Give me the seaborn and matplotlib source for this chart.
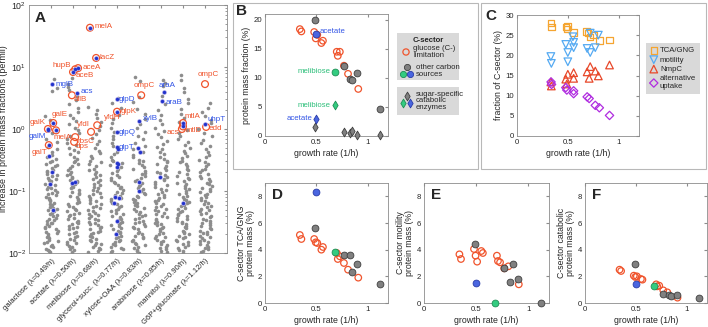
import numpy as np
import pandas as pd
import seaborn as sns
import matplotlib.pyplot as plt
from matplotlib.patches import Rectangle

# ---------------- data ----------------
conds = ['galactose (λ=0.49/h)', 'acetate (λ=0.50/h)', 'melibiose (λ=0.68/h)',
         'glycerol+succ. (λ=0.77/h)', 'xylose+OAA (λ=0.83/h)', 'arabinose (λ=0.85/h)',
         'mannitol (λ=0.90/h)', 'G6P+gluconate (λ=1.12/h)']

# panel A: bulk of proteins (gray cloud) per condition
gray_gal = "6.3 4.6 4.1 1.6 1.4 0.86 0.7 0.62 0.52 0.47 0.42 0.38 0.35 0.33 0.31 0.29 0.27 0.26 0.25 0.235 0.22 0.21 0.2 0.19 0.18 0.172 0.165 0.157 0.15 0.143 0.136 0.13 0.124 0.118 0.112 0.107 0.102 0.097 0.093 0.089 0.085 0.081 0.077 0.074 0.071 0.068 0.065 0.062 0.059 0.056 0.054 0.052 0.049 0.047 0.045 0.043 0.041 0.039 0.037 0.036 0.034 0.033 0.031 0.03 0.029 0.027 0.026 0.025 0.024 0.023 0.022 0.021 0.02 0.019 0.018 0.0172 0.0165 0.0158 0.015 0.0143 0.0136 0.013 0.0124 0.0118 0.0112 0.0107 0.0102"
gray_ace = "6.6 5.4 4.8 4.3 3.4 2.9 2.5 2.2 1.9 1.7 1.5 1.35 1.2 1.05 0.95 0.85 0.76 0.68 0.6 0.55 0.5 0.46 0.42 0.39 0.36 0.33 0.31 0.29 0.27 0.25 0.235 0.22 0.205 0.19 0.18 0.17 0.16 0.152 0.145 0.138 0.13 0.123 0.116 0.11 0.104 0.098 0.093 0.088 0.083 0.079 0.075 0.071 0.067 0.064 0.061 0.058 0.055 0.052 0.05 0.047 0.045 0.043 0.041 0.039 0.037 0.035 0.033 0.032 0.03 0.029 0.027 0.026 0.025 0.024 0.022 0.021 0.02 0.019 0.018 0.017 0.016 0.0152 0.0145 0.0138 0.013 0.0123 0.0116 0.011 0.0104"
gray_mel = "2.3 2.0 1.75 1.5 1.3 1.1 0.95 0.82 0.72 0.64 0.57 0.5 0.45 0.41 0.37 0.34 0.31 0.29 0.27 0.25 0.23 0.215 0.2 0.19 0.178 0.167 0.157 0.148 0.14 0.132 0.125 0.118 0.111 0.105 0.099 0.094 0.089 0.084 0.08 0.076 0.072 0.068 0.065 0.061 0.058 0.055 0.053 0.05 0.048 0.045 0.043 0.041 0.039 0.037 0.035 0.034 0.032 0.031 0.029 0.028 0.026 0.025 0.024 0.023 0.022 0.021 0.02 0.019 0.018 0.0171 0.0163 0.0155 0.0147 0.014 0.0133 0.0126 0.012 0.0114 0.0108 0.0102"
gray_gly = "3.2 2.6 2.2 1.7 1.45 1.25 1.05 0.9 0.78 0.68 0.6 0.54 0.48 0.43 0.39 0.35 0.32 0.3 0.28 0.26 0.24 0.225 0.21 0.195 0.183 0.171 0.16 0.15 0.141 0.133 0.125 0.118 0.111 0.104 0.098 0.092 0.087 0.082 0.077 0.073 0.069 0.065 0.062 0.058 0.055 0.052 0.049 0.047 0.044 0.042 0.04 0.038 0.036 0.034 0.032 0.031 0.029 0.028 0.027 0.025 0.024 0.023 0.022 0.021 0.02 0.019 0.018 0.0172 0.0164 0.0156 0.0148 0.014 0.0133 0.0126 0.012 0.0114 0.0108 0.0102"
gray_xyl = "6.8 5.9 3.3 2.7 2.1 1.75 1.45 1.2 1.02 0.88 0.77 0.68 0.6 0.53 0.47 0.42 0.38 0.35 0.32 0.3 0.28 0.26 0.24 0.225 0.21 0.197 0.185 0.173 0.162 0.152 0.143 0.135 0.127 0.12 0.113 0.106 0.1 0.094 0.089 0.084 0.079 0.075 0.071 0.067 0.063 0.06 0.057 0.054 0.051 0.048 0.046 0.043 0.041 0.039 0.037 0.035 0.033 0.032 0.03 0.029 0.027 0.026 0.025 0.024 0.022 0.021 0.02 0.019 0.018 0.0172 0.0164 0.0155 0.0147 0.014 0.0133 0.0126 0.012 0.0113 0.0107 0.0101"
gray_ara = "6.2 5.5 4.9 3.4 2.5 2.05 1.7 1.4 1.2 1.05 0.92 0.82 0.73 0.65 0.58 0.52 0.47 0.43 0.39 0.36 0.33 0.31 0.29 0.27 0.25 0.235 0.22 0.205 0.192 0.18 0.169 0.158 0.148 0.139 0.131 0.123 0.116 0.109 0.103 0.097 0.091 0.086 0.081 0.077 0.072 0.068 0.065 0.061 0.058 0.055 0.052 0.049 0.047 0.044 0.042 0.04 0.038 0.036 0.034 0.032 0.031 0.029 0.028 0.026 0.025 0.024 0.023 0.021 0.02 0.019 0.018 0.0173 0.0165 0.0157 0.0149 0.0141 0.0134 0.0127 0.012 0.0114 0.0108 0.0102"
gray_man = "7.4 6.1 4.6 3.9 3.1 2.6 2.1 1.75 1.5 1.3 0.95 0.85 0.76 0.68 0.61 0.55 0.5 0.45 0.41 0.37 0.34 0.31 0.29 0.27 0.25 0.23 0.215 0.2 0.188 0.176 0.165 0.155 0.145 0.136 0.128 0.12 0.113 0.106 0.1 0.094 0.089 0.084 0.079 0.075 0.071 0.067 0.063 0.06 0.057 0.054 0.051 0.048 0.046 0.043 0.041 0.039 0.037 0.035 0.033 0.032 0.03 0.029 0.027 0.026 0.025 0.023 0.022 0.021 0.02 0.019 0.018 0.0172 0.0164 0.0156 0.0148 0.014 0.0133 0.0126 0.0119 0.0113 0.0107 0.0101"
gray_g6p = "2.6 2.2 1.9 1.6 1.4 1.25 1.0 0.87 0.76 0.67 0.6 0.53 0.47 0.42 0.38 0.35 0.32 0.29 0.27 0.25 0.23 0.215 0.2 0.187 0.175 0.164 0.154 0.145 0.136 0.128 0.12 0.113 0.107 0.101 0.095 0.09 0.085 0.08 0.076 0.072 0.068 0.064 0.061 0.058 0.055 0.052 0.049 0.047 0.044 0.042 0.04 0.038 0.036 0.034 0.033 0.031 0.03 0.028 0.027 0.025 0.024 0.023 0.022 0.021 0.02 0.019 0.018 0.0172 0.0164 0.0156 0.0148 0.0141 0.0134 0.0127 0.012 0.0114 0.0108 0.0102"
gray_cols = [gray_gal, gray_ace, gray_mel, gray_gly, gray_xyl, gray_ara, gray_man, gray_g6p]

# panel A: highlighted genes (b = sugar-specific, blue dot; r = C-sector, red ring)
gene_name = ['mglB', 'galE', 'galK', 'galM', 'melA', 'galT', '', '', '', '',
             'aceA', 'hupB', 'aceB', 'acs', 'allB', 'rbsC', 'dps', '', '',
             'melA', 'lacZ', 'yfdH', 'yfdI',
             'glpD', 'glpK', 'glpQ', 'glpT', '', '', '', '', '', '', '', '', '',
             'ompC', 'xylB', '', '', '', '',
             'araA', 'araB', '',
             'mtlA', 'mtlD', 'acs', '',
             'ompC', 'uhpT', 'edd']
gene_cond = [0] * 10 + [1] * 9 + [2] * 4 + [3] * 13 + [4] * 6 + [5] * 3 + [6] * 4 + [7] * 3
gene_val = [5.3, 1.25, 1.0, 0.98, 0.95, 0.55, 0.37, 0.2, 0.13, 0.05,
            9.6, 9.2, 8.3, 3.8, 3.5, 0.74, 0.62, 0.135, 0.14,
            43, 14, 1.15, 0.9,
            3.0, 1.9, 0.9, 0.51, 0.47, 0.28, 0.27, 0.24, 0.08, 0.078, 0.064, 0.033, 0.02,
            3.5, 1.35, 0.5, 0.43, 0.14, 0.1,
            4.0, 2.8, 0.17,
            1.25, 1.1, 1.0, 0.065,
            5.3, 1.2, 1.08]
gene_kind = ['b', 'rb', 'rb', 'b', 'rb', 'rb', 'b', 'b', 'b', 'b',
             'rb', 'rb', 'rb', 'b', 'r', 'r', 'r', 'b', 'b',
             'rb', 'rb', 'r', 'r',
             'b', 'rb', 'b', 'b', 'b', 'b', 'b', 'b', 'b', 'b', 'b', 'b', 'b',
             'r', 'b', 'b', 'b', 'b', 'b',
             'b', 'b', 'b',
             'rb', 'rb', 'r', 'b',
             'r', 'b', 'r']

# panels B-F: growth rates
glc_lam = [0.34, 0.355, 0.48, 0.495, 0.51, 0.55, 0.565, 0.70, 0.71, 0.73, 0.77, 0.81, 0.91]
other_lam = [0.49, 0.77, 0.83, 0.85, 0.90, 1.12]   # galactose, glycerol, xylose, arabinose, mannitol, G6P
ace_lam = 0.50
mel_lam = 0.68

# B: C-sector and catabolic enzymes (%)
glc_B = [18.4, 18.0, 17.9, 16.8, 17.4, 16.0, 16.4, 14.5, 13.8, 14.5, 12.1, 10.7, 8.1]
oth_B = [19.9, 12.1, 9.8, 9.6, 10.8, 4.6]
ace_B, mel_B = 17.6, 11.1
oth_cat_B = [1.55, 0.7, 0.6, 0.8, 0.25, 0.1]
ace_cat_B, mel_cat_B = 3.0, 5.3

# C: fraction of C-sector (%)
tca_x = [0.333, 0.338, 0.48, 0.497, 0.49, 0.555, 0.686, 0.70, 0.72, 0.75, 0.81, 0.91]
tca_y = [28.0, 27.0, 27.0, 27.1, 26.5, 25.7, 25.9, 25.5, 24.5, 25.1, 23.7, 23.8]
mot_x = [0.333, 0.338, 0.48, 0.50, 0.50, 0.55, 0.557, 0.557, 0.69, 0.72, 0.72, 0.77, 0.80]
mot_y = [19.7, 18.0, 22.7, 20.7, 18.4, 24.6, 23.2, 21.9, 21.7, 20.7, 25.5, 21.9, 25.0]
nmp_x = [0.333, 0.338, 0.48, 0.49, 0.50, 0.557, 0.557, 0.69, 0.71, 0.72, 0.77, 0.80, 0.91]
nmp_y = [13.4, 12.4, 14.1, 12.9, 15.3, 15.7, 14.3, 15.9, 14.3, 17.2, 16.1, 14.9, 17.6]
alt_x = [0.335, 0.34, 0.48, 0.49, 0.557, 0.557, 0.69, 0.71, 0.77, 0.81, 0.91]
alt_y = [13.4, 12.8, 12.0, 11.4, 11.2, 10.5, 9.7, 9.3, 7.6, 7.0, 5.1]

# D: TCA/GNG, E: motility, F: catabolic (protein mass %)
glc_D = [5.1, 4.8, 4.8, 4.55, 4.5, 4.0, 4.2, 3.75, 3.3, 3.5, 3.0, 2.5, 1.9]
oth_D = [5.6, 3.6, 3.6, 2.3, 2.95, 1.4]
ace_D, mel_D = 8.3, 3.8
glc_E = [3.65, 3.3, 4.05, 3.55, 3.1, 3.9, 3.75, 3.55, 3.15, 3.05, 2.6, 2.75, 1.4]
oth_E = [4.4, 2.6, 1.6, 2.9, 1.8, 0.0]
ace_E, mel_E = 1.5, 0.0
glc_F = [2.5, 2.4, 2.05, 1.95, 2.0, 1.8, 1.75, 1.4, 1.25, 1.3, 0.95, 0.8, 0.4]
oth_F = [2.9, 0.65, 0.6, 0.55, 0.62, 0.38]
ace_F, mel_F = 1.45, 1.3

# ---------------- style ----------------
RED = '#f0542c'
BLUE = '#2233cc'
BLUE_T = '#3355e6'
GREEN_T = '#2dbf7a'
PT_GRAY = '#8d8d8d'
F_GRAY, E_GRAY = '#808080', '#3f3f3f'
F_BLUE, E_BLUE = '#4a66e0', '#2a3ca8'
F_GREEN, E_GREEN = '#33cc80', '#1f8f55'

sns.set_style("white")
plt.rcParams['font.family'] = ['Liberation Sans', 'DejaVu Sans']
plt.rcParams.update({
    'font.size': 6, 'axes.labelsize': 6.3, 'xtick.labelsize': 5.6, 'ytick.labelsize': 5.6,
    'xtick.direction': 'in', 'ytick.direction': 'in',
    'xtick.major.size': 2.5, 'ytick.major.size': 2.5,
    'xtick.minor.size': 1.3, 'ytick.minor.size': 1.3,
    'axes.edgecolor': '#8c8c8c', 'axes.linewidth': 0.6,
    'xtick.color': '#8c8c8c', 'ytick.color': '#8c8c8c',
    'xtick.labelcolor': '#262626', 'ytick.labelcolor': '#262626',
    'axes.labelcolor': '#262626', 'text.color': '#262626',
    'axes.labelpad': 2, 'xtick.major.pad': 2.5, 'ytick.major.pad': 2,
})

W, H = 708, 327
fig = plt.figure(figsize=(W / 100, H / 100), dpi=100)


def px_axes(l, t, r, b):
    return fig.add_axes([l / W, 1 - b / H, (r - l) / W, (b - t) / H])


def box_ticks(ax):
    ax.tick_params(which='both', top=True, right=True)


# panel frames
for (l, t, r, b) in [(233, 3, 478, 169), (481, 3, 706, 169)]:
    fig.add_artist(Rectangle((l / W, 1 - b / H), (r - l) / W, (b - t) / H,
                             transform=fig.transFigure, fill=False, ec='#b8b8b8', lw=0.8))

# ---------------- A ----------------
axA = px_axes(29, 5, 227, 253)
vals = [np.array(s.split(), dtype=float) for s in gray_cols]
dfA = pd.DataFrame({'cond': np.repeat(conds, [len(v) for v in vals]), 'val': np.concatenate(vals)})
sns.stripplot(data=dfA, x='cond', y='val', order=conds, color=PT_GRAY, size=2.6,
              jitter=0.3, linewidth=0, ax=axA, zorder=2)
axA.set_yscale('log')
axA.set_ylim(0.01, 100)
axA.set_xlim(-1, 8)

# jitter of highlighted points and label layout (style only)
gene_dx = [0.05, 0.1, -0.14, -0.14, 0.23, -0.1, -0.1, 0.05, -0.05, 0.1,
           0.23, 0.1, 0, 0.18, -0.05, 0.1, 0.05, -0.05, 0.1,
           -0.23, 0.05, 0.1, -0.18,
           0, 0, 0, 0, 0.05, 0, 0.05, 0, -0.1, 0.1, -0.15, 0, -0.05,
           0.1, 0, -0.05, 0.05, 0, 0,
           0.15, 0.05, -0.05,
           0, 0, -0.05, 0,
           0, 0, 0.05]
lab_off = {'mglB': (3, 0, 'left'), 'galE': (-2, 8, 'left'), 'galK': (-2, 6, 'right'),
           'galM': (-2, -7, 'right'), 'galT': (-1, -7, 'right'), 'aceA': (5, 1, 'left'),
           'hupB': (-4, 4, 'right'), 'aceB': (3, -3, 'left'), 'allB': (2, -4, 'left'),
           'rbsC': (2, -4, 'left'), 'dps': (2, -5, 'left'), 'lacZ': (3, 0, 'left'),
           'yfdH': (7, 8, 'left'), 'yfdI': (-1, 7, 'right'), 'glpD': (2, 0, 'left'),
           'glpK': (4, 0, 'left'), 'glpQ': (2, -1, 'left'), 'glpT': (2, 0, 'left'),
           'xylB': (4, 2, 'left'), 'araA': (3, 6, 'center'), 'araB': (4, -1, 'left'),
           'mtlA': (2, 6, 'left'), 'mtlD': (3, -4, 'left'), 'uhpT': (3, 5, 'left'),
           'edd': (3, -2, 'left')}
special_off = {(0, 'melA'): (-3, -7, 'left'), (2, 'melA'): (5, 1, 'left'),
               (1, 'acs'): (4, 2, 'left'), (6, 'acs'): (-3, -3, 'right'),
               (4, 'ompC'): (3, 10, 'center'), (7, 'ompC'): (3, 10, 'center')}

gx = np.array(gene_cond) + np.array(gene_dx)
gv = np.array(gene_val)
ring = np.array(['r' in k for k in gene_kind])
dot = np.array(['b' in k for k in gene_kind])
axA.scatter(gx[ring], gv[ring], s=24, facecolors='none', edgecolors=RED, linewidths=0.9, zorder=3)
axA.scatter(gx[dot], gv[dot], s=12, color='#b9b4ee', linewidths=0, zorder=3)
axA.scatter(gx[dot], gv[dot], s=6, color=BLUE, linewidths=0, zorder=4)
for name, c, x, v, k in zip(gene_name, gene_cond, gx, gv, gene_kind):
    if not name:
        continue
    dx, dy, ha = special_off.get((c, name), lab_off.get(name, (3, 0, 'left')))
    axA.annotate(name, (x, v), xytext=(dx, dy), textcoords='offset pixels', ha=ha, va='center',
                 color=RED if 'r' in k else BLUE_T, fontsize=5.8, zorder=5)

axA.set_xticks(range(len(conds)))
axA.set_xticklabels(conds, rotation=45, ha='right', rotation_mode='anchor', fontsize=5.5)
axA.tick_params(axis='x', pad=3)
axA.set_xlabel('')
axA.set_ylabel('increase in protein mass fractions (permil)', fontsize=6.4)
axA.yaxis.set_label_coords(-0.105, 0.5)
axA.tick_params(axis='y', labelsize=6.3)
box_ticks(axA)
axA.text(0.03, 0.975, 'A', transform=axA.transAxes, va='top', ha='left', fontsize=11, fontweight='bold')

# ---------------- B ----------------
axB = px_axes(265, 14, 388, 136)
sns.scatterplot(x=glc_lam, y=glc_B, ax=axB, s=22, facecolor='none', edgecolor=RED, linewidth=0.9, zorder=3, clip_on=False)
sns.scatterplot(x=other_lam, y=oth_B, ax=axB, s=24, color=F_GRAY, edgecolor=E_GRAY, linewidth=0.6, zorder=4, clip_on=False)
sns.scatterplot(x=[ace_lam], y=[ace_B], ax=axB, s=24, color=F_BLUE, edgecolor=E_BLUE, linewidth=0.6, zorder=4, clip_on=False)
sns.scatterplot(x=[mel_lam], y=[mel_B], ax=axB, s=24, color=F_GREEN, edgecolor=E_GREEN, linewidth=0.6, zorder=4, clip_on=False)
sns.scatterplot(x=other_lam, y=oth_cat_B, ax=axB, marker='d', s=20, color=F_GRAY, edgecolor=E_GRAY, linewidth=0.6, zorder=4, clip_on=False)
sns.scatterplot(x=[ace_lam], y=[ace_cat_B], ax=axB, marker='d', s=20, color=F_BLUE, edgecolor=E_BLUE, linewidth=0.6, zorder=4, clip_on=False)
sns.scatterplot(x=[mel_lam], y=[mel_cat_B], ax=axB, marker='d', s=20, color=F_GREEN, edgecolor=E_GREEN, linewidth=0.6, zorder=4, clip_on=False)
axB.annotate('acetate', (ace_lam, ace_B), xytext=(3, 2), textcoords='offset pixels', color=BLUE_T, fontsize=5.6, va='center')
axB.annotate('melibiose', (mel_lam, mel_B), xytext=(-4, 0), textcoords='offset pixels', color=GREEN_T, fontsize=5.6, va='center', ha='right')
axB.annotate('melibiose', (mel_lam, mel_cat_B), xytext=(-4, 0), textcoords='offset pixels', color=GREEN_T, fontsize=5.6, va='center', ha='right')
axB.annotate('acetate', (ace_lam, ace_cat_B), xytext=(-4, 0), textcoords='offset pixels', color=BLUE_T, fontsize=5.6, va='center', ha='right')
axB.set_xlim(0, 1.2)
axB.set_ylim(0, 21)
axB.set_yticks([0, 5, 10, 15, 20])
axB.set_xticks([0, 0.5, 1])
axB.set_xticklabels(['0', '0.5', '1'])
axB.set_xlabel('growth rate (1/h)')
axB.set_ylabel('protein mass fraction (%)')
box_ticks(axB)
fig.text(236 / W, 1 - 4 / H, 'B', va='top', ha='left', fontsize=11, fontweight='bold')

# legend of B (drawn in pixel space)
lg = px_axes(397, 33, 460, 116)
lg.set_xlim(397, 460)
lg.set_ylim(116, 33)
lg.axis('off')
lg.add_patch(Rectangle((397, 33), 62, 47, fc='#d9d9d9', ec='none'))
lg.add_patch(Rectangle((397, 87), 62, 28, fc='#d9d9d9', ec='none'))
lg.text(428, 40, 'C-sector', fontweight='bold', ha='center', va='center', fontsize=5.6)
lg.scatter([406], [52], s=20, fc='none', ec=RED, lw=0.9)
lg.text(413, 52, 'glucose (C-)\nlimitation', va='center', fontsize=5.6, linespacing=0.9)
lg.scatter([407], [67], s=20, fc=F_GRAY, ec=E_GRAY, lw=0.6)
lg.scatter([403], [74], s=20, fc=F_GREEN, ec=E_GREEN, lw=0.6)
lg.scatter([410], [74], s=20, fc=F_BLUE, ec=E_BLUE, lw=0.6)
lg.text(416, 71, 'other carbon\nsources', va='center', fontsize=5.6, linespacing=0.9)
lg.scatter([407], [96], marker='d', s=20, fc=F_GRAY, ec=E_GRAY, lw=0.6)
lg.scatter([403], [103], marker='d', s=20, fc=F_GREEN, ec=E_GREEN, lw=0.6)
lg.scatter([410], [103], marker='d', s=20, fc=F_BLUE, ec=E_BLUE, lw=0.6)
lg.text(416, 101, 'sugar-specific\ncatabolic\nenzymes', va='center', fontsize=5.6, linespacing=0.9)

# ---------------- C ----------------
axC = px_axes(517, 15, 639, 136)
sns.scatterplot(x=tca_x, y=tca_y, ax=axC, marker='s', s=22, facecolor='none', edgecolor='#f5a531', linewidth=0.9, label='TCA/GNG', clip_on=False)
sns.scatterplot(x=mot_x, y=mot_y, ax=axC, marker='v', s=30, facecolor='none', edgecolor='#55aaf2', linewidth=0.9, label='motility', clip_on=False)
sns.scatterplot(x=nmp_x, y=nmp_y, ax=axC, marker='^', s=30, facecolor='none', edgecolor='#e8482a', linewidth=0.9, label='NmpC', clip_on=False)
sns.scatterplot(x=alt_x, y=alt_y, ax=axC, marker='D', s=18, facecolor='none', edgecolor='#b02de0', linewidth=0.9, label='alternative\nuptake', clip_on=False)
axC.set_xlim(0, 1.2)
axC.set_ylim(0, 30)
axC.set_yticks([0, 5, 10, 15, 20, 25, 30])
axC.set_xticks([0, 0.5, 1])
axC.set_xticklabels(['0', '0.5', '1'])
axC.set_xlabel('growth rate (1/h)')
axC.set_ylabel('fraction of C-sector (%)')
box_ticks(axC)
leg = axC.legend(loc='upper left', bbox_to_anchor=(646 / W, 1 - 43 / H), bbox_transform=fig.transFigure,
                 frameon=True, facecolor='#d9d9d9', edgecolor='none', fancybox=False, framealpha=1,
                 fontsize=5.6, handletextpad=0.3, borderpad=0.5, labelspacing=0.25, handlelength=1.0,
                 borderaxespad=0)
fig.text(485 / W, 1 - 9 / H, 'C', va='top', ha='left', fontsize=11, fontweight='bold')


# ---------------- D, E, F ----------------
def bottom_panel(l, r, glc, oth, ace, mel, ylabel, letter):
    ax = px_axes(l, 183, r, 303)
    sns.scatterplot(x=glc_lam, y=glc, ax=ax, s=22, facecolor='none', edgecolor=RED, linewidth=0.9, zorder=3, clip_on=False)
    sns.scatterplot(x=other_lam, y=oth, ax=ax, s=24, color=F_GRAY, edgecolor=E_GRAY, linewidth=0.6, zorder=4, clip_on=False)
    sns.scatterplot(x=[ace_lam], y=[ace], ax=ax, s=24, color=F_BLUE, edgecolor=E_BLUE, linewidth=0.6, zorder=4, clip_on=False)
    sns.scatterplot(x=[mel_lam], y=[mel], ax=ax, s=24, color=F_GREEN, edgecolor=E_GREEN, linewidth=0.6, zorder=4, clip_on=False)
    ax.set_xlim(0, 1.2)
    ax.set_ylim(0, 9)
    ax.set_yticks([0, 2, 4, 6, 8])
    ax.set_xticks([0, 0.5, 1])
    ax.set_xticklabels(['0', '0.5', '1'])
    ax.set_xlabel('growth rate (1/h)')
    ax.set_ylabel(ylabel, linespacing=1.0)
    box_ticks(ax)
    ax.text(0.055, 0.96, letter, transform=ax.transAxes, va='top', ha='left', fontsize=11, fontweight='bold')
    return ax


bottom_panel(265, 388, glc_D, oth_D, ace_D, mel_D, 'C-sector TCA/GNG\nprotein mass (%)', 'D')
bottom_panel(424, 549, glc_E, oth_E, ace_E, mel_E, 'C-sector motility\nprotein mass (%)', 'E')
bottom_panel(585, 707, glc_F, oth_F, ace_F, mel_F, 'C-sector catabolic\nprotein mass (%)', 'F')

fig.savefig('out.png', dpi=100)
